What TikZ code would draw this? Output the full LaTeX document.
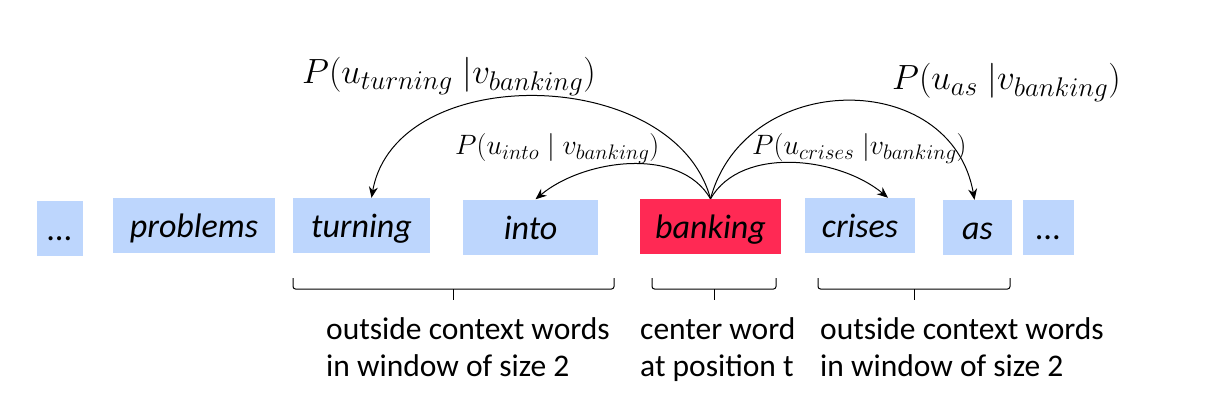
\RequirePackage{fix-cm}
\documentclass[tikz,border=0pt]{standalone}
\usepackage{fontspec}
\setmainfont{Carlito}
\usetikzlibrary{arrows.meta,calc}
\definecolor{wordblue}{RGB}{189,214,253}
\definecolor{centerred}{RGB}{255,41,84}
\DeclareMathSizes{35}{35}{27}{21}
\DeclareMathSizes{28}{28}{21}{16}

\begin{document}
\begin{tikzpicture}[
    x=1pt, y=1pt,
    word/.style={rectangle, fill=wordblue, minimum height=55pt, inner sep=0pt, text height=24pt, text depth=0pt, font=\fontsize{34}{40}\selectfont\itshape},
    centerword/.style={word, fill=centerred},
    arc/.style={-{Stealth[length=11pt,width=9pt]}, line width=1pt},
    window/.style={line width=1pt, rounded corners=2.5pt},
    probbig/.style={anchor=base west, inner sep=0pt, font=\fontsize{35}{40}\selectfont},
    probsmall/.style={anchor=base west, inner sep=0pt, font=\fontsize{28}{32}\selectfont},
    caption/.style={align=left, anchor=north west, inner sep=0pt, font=\fontsize{31.5}{37}\selectfont}
]
\useasboundingbox (0,0) rectangle (1214,402);

% Mots de la phrase
\node[word, minimum width=46pt] (dotsl) at (60,174) {...};
\node[word, minimum width=162pt] (problems) at (194,176.5) {problems};
\node[word, minimum width=137pt] (turning) at (361.5,176.5) {turning};
\node[word, minimum width=135pt] (into) at (530.5,175) {into};
\node[centerword, minimum width=141pt] (banking) at (710.5,175.5) {banking};
\node[word, minimum width=110pt] (crises) at (860,176.5) {crises};
\node[word, minimum width=69pt] (as) at (977.5,174.5) {as};
\node[word, minimum width=51pt] (dotsr) at (1048.5,174.5) {...};

% Probabilites
\node[probbig] (pturning) at (302,318) {$P\bigl(u_{turning}\;|v_{banking}\bigr)$};
\node[probsmall] (pinto) at (455,247) {$P\bigl(u_{into}\mid v_{banking}\bigr)$};
\node[probsmall] (pcrises) at (752,247) {$P\bigl(u_{crises}\;|v_{banking}\bigr)$};
\node[probbig] (pas) at (892,312) {$P\bigl(u_{as}\;|v_{banking}\bigr)$};

% Fleches depuis le mot central
\draw[arc] (banking.north) to[out=105, in=80, looseness=1.05] ([xshift=10]turning.north);
\draw[arc] (banking.north) to[out=120, in=40, looseness=0.9] ([xshift=5]into.north);
\draw[arc] (banking.north) to[out=60, in=140, looseness=0.9] ([xshift=28]crises.north);
\draw[arc] (banking.north) to[out=75, in=100, looseness=1.3] ([xshift=-3]as.north);

% Fenetres (accolades)
\coordinate (leftA) at (293,124);
\coordinate (leftB) at (614,124);
\coordinate (midA) at (652,124);
\coordinate (midB) at (776,124);
\coordinate (rightA) at (818,124);
\coordinate (rightB) at (1010,124);

\foreach \a/\b in {leftA/leftB, midA/midB, rightA/rightB} {
    \draw[window] (\a) -- ++(0,-11) -| (\b);
    \draw[line width=1pt] ($(\a)!0.5!(\b)+(0,-11)$) -- ++(0,-11);
}

\node[caption] (leftcap) at (326,85) {outside context words\\in window of size 2};
\node[caption] (centercap) at (640,85) {center word\\at position t};
\node[caption] (rightcap) at (820,85) {outside context words\\in window of size 2};

\end{tikzpicture}
\end{document}
